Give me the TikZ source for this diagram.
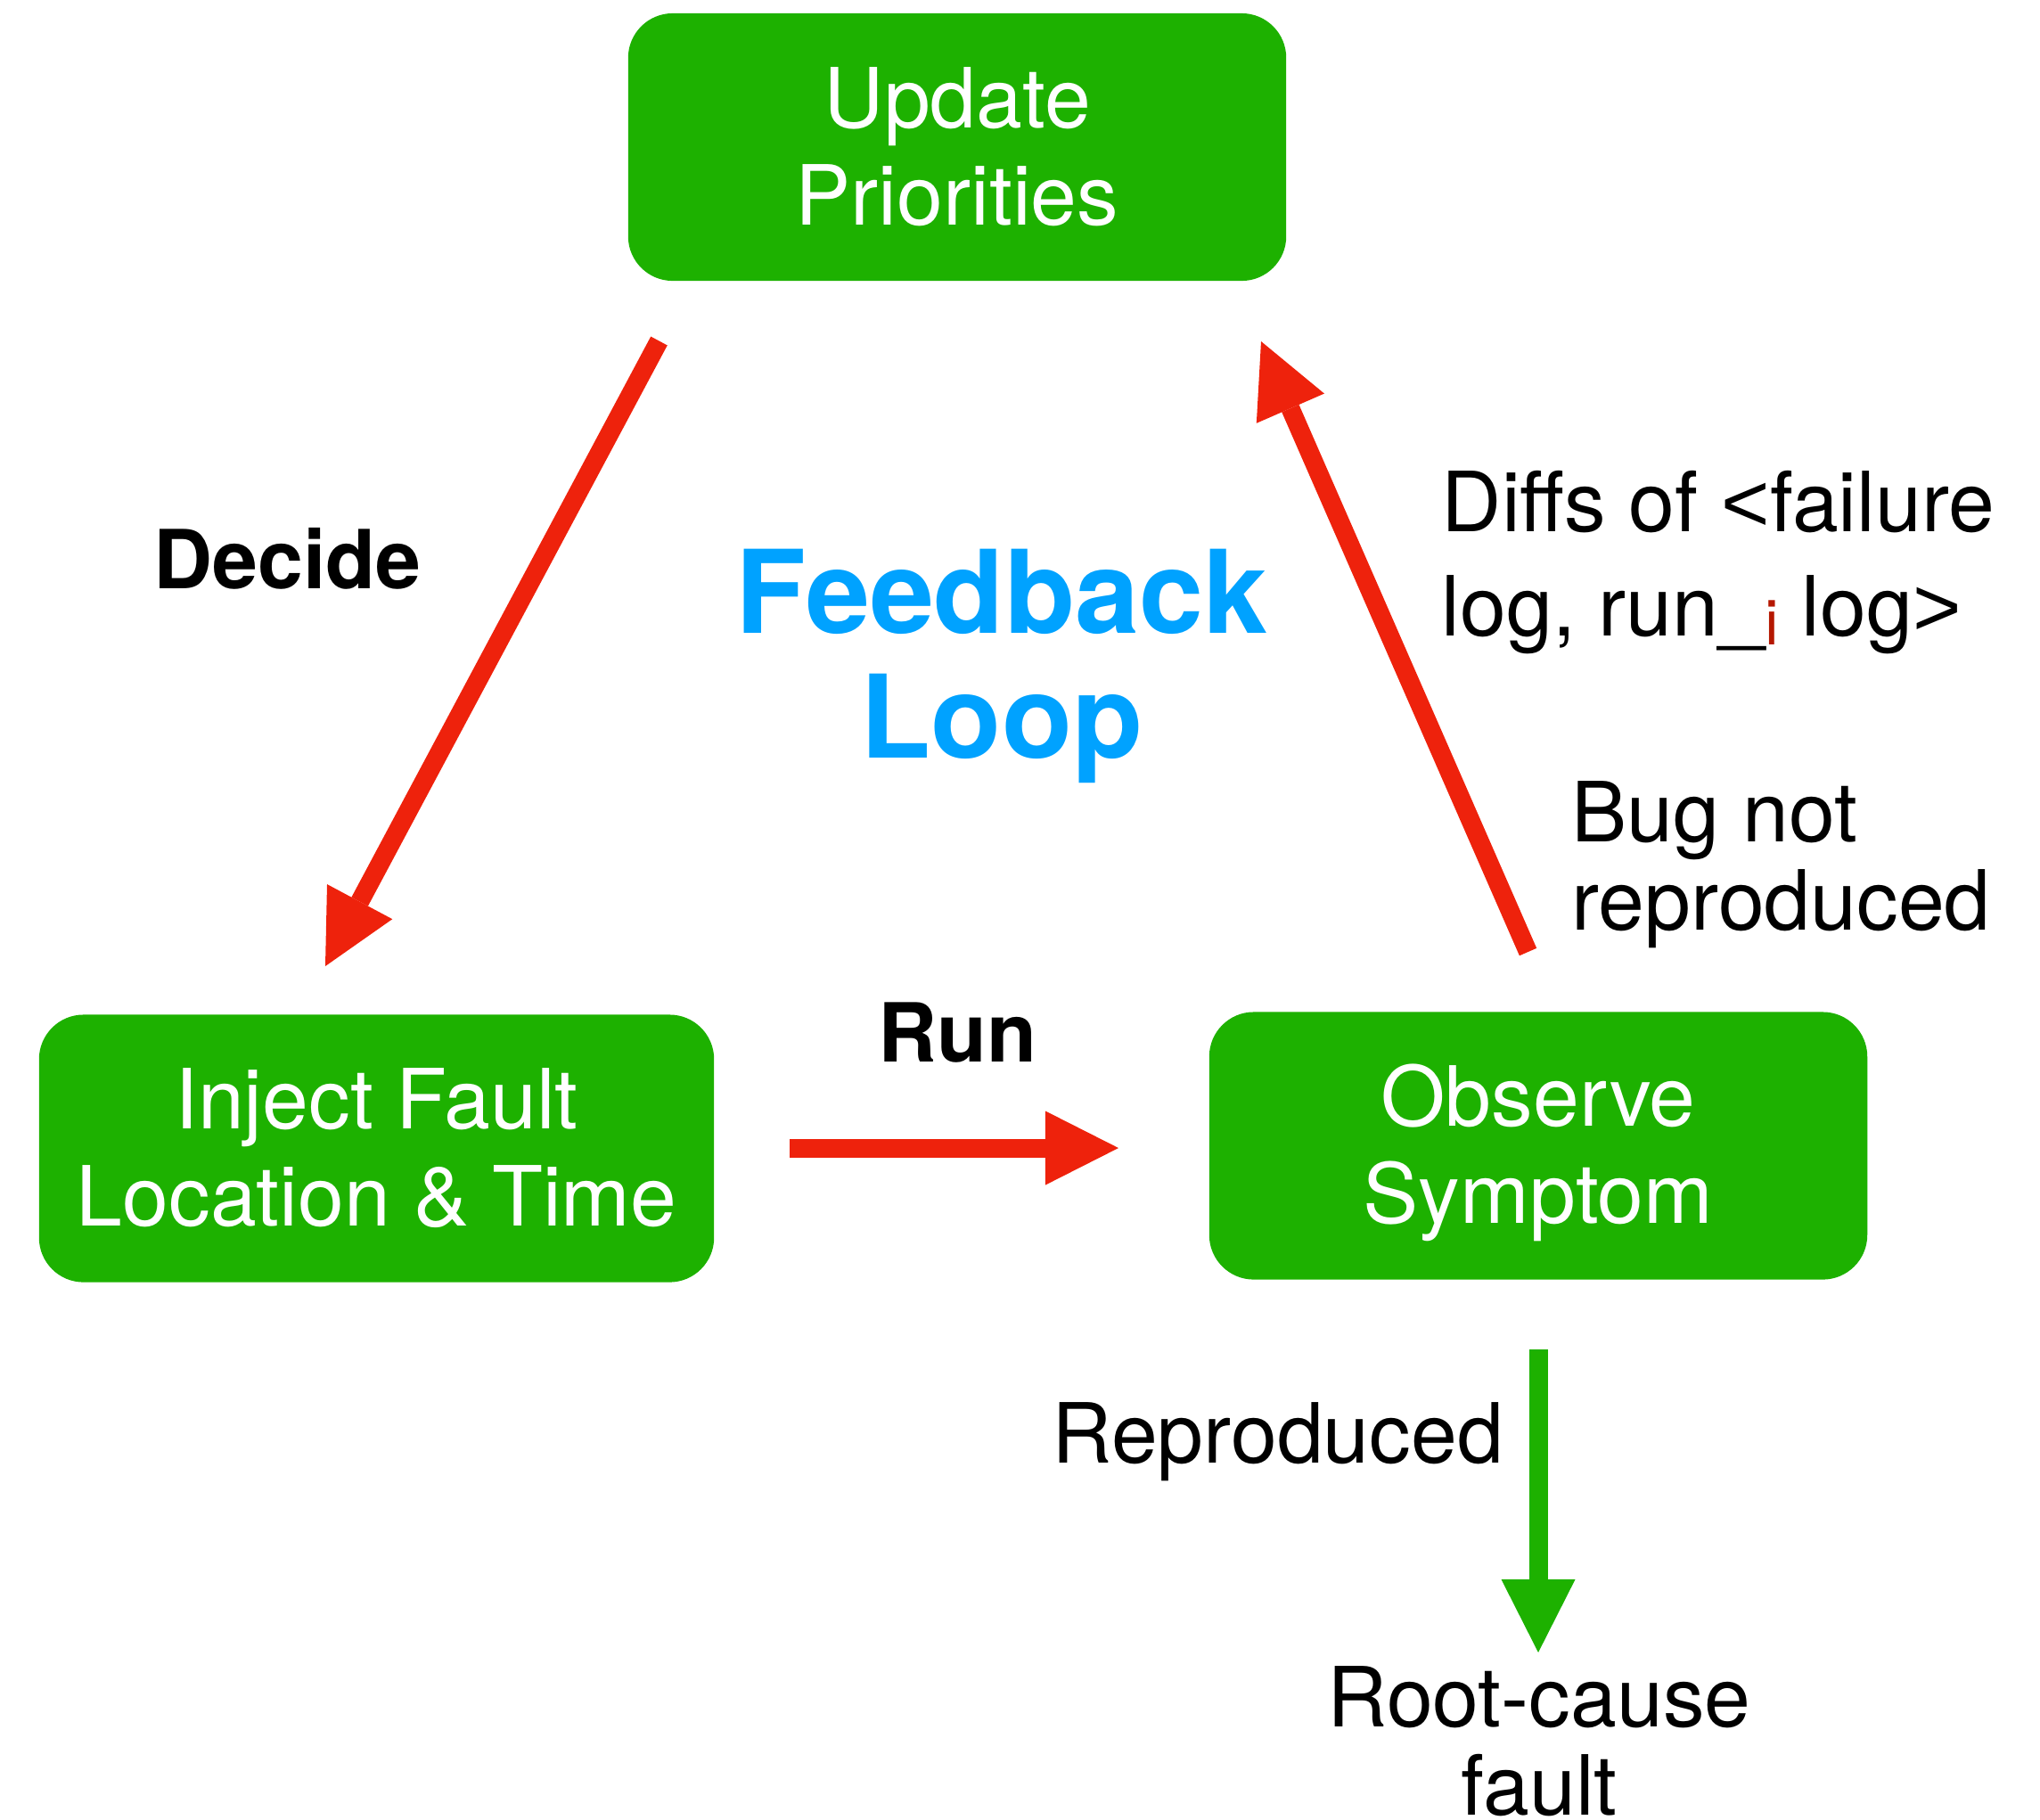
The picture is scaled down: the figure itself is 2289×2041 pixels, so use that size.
\documentclass[tikz,border=0pt]{standalone}
\usepackage{fontspec}
\setmainfont{TeX Gyre Heros}
\newfontfamily\anglefont{Liberation Sans}
\usetikzlibrary{arrows.meta}
\definecolor{boxgreen}{RGB}{29,177,0}
\definecolor{arrowred}{RGB}{238,34,12}
\definecolor{loopblue}{RGB}{0,162,255}
\definecolor{subred}{RGB}{181,23,0}
\tikzset{
  stepbox/.style={fill=boxgreen, rounded corners=0.5cm, inner sep=0pt, text=white,
    align=center, font=\fontsize{26.5}{31}\selectfont,
    text height=49.6pt, text depth=0pt, minimum height=3cm},
  lbl/.style={inner sep=0pt, font=\fontsize{26.5}{31}\selectfont},
  boldlbl/.style={inner sep=0pt, font=\fontsize{26}{31}\selectfont\bfseries},
  flow/.style={line width=0.21cm,
    -{Triangle[length=0.82cm,width=0.83cm,line width=0pt]}},
}
\begin{document}
\begin{tikzpicture}[x=0.01cm,y=-0.01cm]
\useasboundingbox (0,0) rectangle (2289,2041);

% the three stages of the loop
\node[stepbox, minimum width=7.38cm] (up)  at (1074,165)    {Update\\Priorities};
\node[stepbox, minimum width=7.57cm] (inj) at (422.5,1288.5) {Inject Fault\\Location \& Time};
\node[stepbox, minimum width=7.38cm] (obs) at (1726,1285.5)  {Observe\\Symptom};

% arrow end points
\coordinate (decA) at (739.5,382.5);
\coordinate (decB) at (365,1084);
\coordinate (runA) at (886,1288);
\coordinate (runB) at (1255,1288);
\coordinate (fbA)  at (1714.5,1068);
\coordinate (fbB)  at (1415,383);
\coordinate (repA) at (1726,1514);
\coordinate (repB) at (1726,1854);

% labels (multi-line labels are anchored at the baseline of their last line)
\node[boldlbl, anchor=base west] (decide) at (172,660) {Decide};
\node[inner sep=0pt, text=loopblue, align=center, anchor=base,
      font=\fontsize{36.8}{39.8}\selectfont\bfseries] (loop) at (1124,850) {Feedback\\Loop};
\node[lbl, align=left, anchor=base west, font=\fontsize{26.5}{33}\selectfont] (diffs) at (1617,713)
  {Diffs of {\anglefont<}failure\\log, run\_\raisebox{-0.1cm}{\textcolor{subred}{\fontsize{20}{20}\selectfont i}} log{\anglefont>}};
\node[lbl, align=left, anchor=base west, font=\fontsize{26.5}{27.9}\selectfont] (bug) at (1763,1043)
  {Bug not\\reproduced};
\node[boldlbl, anchor=base] (run) at (1074,1191) {Run};
\node[lbl, anchor=base west] (repro) at (1180,1641) {Reproduced};
\node[lbl, align=center, anchor=base, font=\fontsize{26.5}{27.9}\selectfont] (root) at (1727,2036)
  {Root-cause\\fault};

% connectors
\draw[flow, arrowred] (decA) -- (decB);
\draw[flow, arrowred] (runA) -- (runB);
\draw[flow, arrowred] (fbA) -- (fbB);
\draw[flow, boxgreen] (repA) -- (repB);
\end{tikzpicture}
\end{document}
